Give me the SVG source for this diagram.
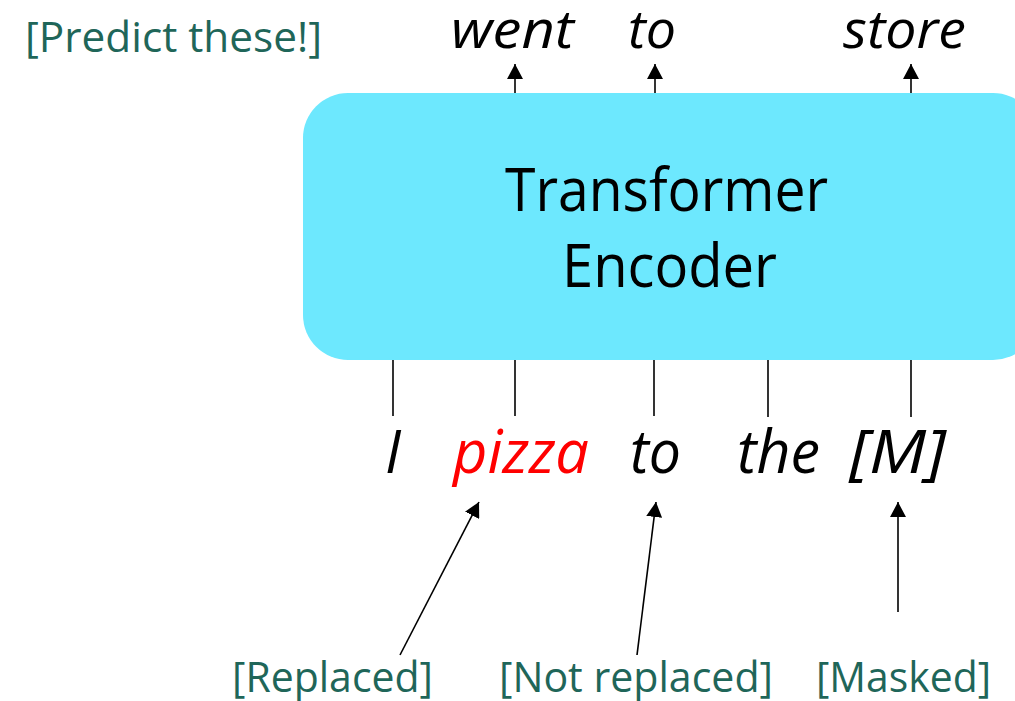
<svg xmlns="http://www.w3.org/2000/svg" width="1015" height="701" viewBox="0 0 1015 701">
<defs>
<marker id="ah" markerUnits="userSpaceOnUse" markerWidth="16" markerHeight="16" viewBox="0 0 16 16" refX="15" refY="8" orient="auto">
<path d="M0,0 L15,8 L0,16 Z" fill="#000"/>
</marker>
<style>
.lbl{font-family:"Open Sans","Liberation Sans",sans-serif;fill:#1f6659;font-size:42px}
.tok{font-family:"Open Sans","Liberation Sans",sans-serif;font-style:italic;fill:#000}
.enc{font-family:"Open Sans","Liberation Sans",sans-serif;fill:#000;font-size:60px}
.ln{stroke:#000;stroke-width:1.6;fill:none}
.arr{stroke:#000;stroke-width:1.6;fill:none;marker-end:url(#ah)}
</style>
</defs>
<rect width="1015" height="701" fill="#fff"/>
<g id="encoder">
<rect x="303" y="93" width="735" height="267" rx="45" ry="45" fill="#6de8fe"/>
<text class="enc" x="505" y="211" textLength="323" lengthAdjust="spacingAndGlyphs">Transformer</text>
<text class="enc" x="562" y="287" textLength="215" lengthAdjust="spacingAndGlyphs">Encoder</text>
</g>
<g id="predict-label">
<text class="lbl" x="25" y="52" textLength="297" lengthAdjust="spacingAndGlyphs">[Predict these!]</text>
</g>
<g id="outputs">
<text class="tok" font-size="53" x="451" y="48" textLength="123" lengthAdjust="spacingAndGlyphs">went</text>
<text class="tok" font-size="53" x="628" y="48" textLength="48" lengthAdjust="spacingAndGlyphs">to</text>
<text class="tok" font-size="53" x="843" y="48" textLength="123" lengthAdjust="spacingAndGlyphs">store</text>
</g>
<g id="inputs">
<text class="tok" font-size="60" x="385" y="473" textLength="16" lengthAdjust="spacingAndGlyphs">I</text>
<text class="tok" font-size="60" x="453" y="473" textLength="136" lengthAdjust="spacingAndGlyphs" style="fill:#ff0000">pizza</text>
<text class="tok" font-size="60" x="630" y="473" textLength="51" lengthAdjust="spacingAndGlyphs">to</text>
<text class="tok" font-size="60" x="737" y="473" textLength="83" lengthAdjust="spacingAndGlyphs">the</text>
<text class="tok" font-size="60" x="849" y="473" textLength="97" lengthAdjust="spacingAndGlyphs">[M]</text>
</g>
<g id="bottom-labels">
<text class="lbl" x="232" y="692" textLength="201" lengthAdjust="spacingAndGlyphs">[Replaced]</text>
<text class="lbl" x="499" y="692" textLength="274" lengthAdjust="spacingAndGlyphs">[Not replaced]</text>
<text class="lbl" x="816" y="692" textLength="175" lengthAdjust="spacingAndGlyphs">[Masked]</text>
</g>
<g id="connectors">
<line class="arr" x1="515" y1="93" x2="515" y2="64"/>
<line class="arr" x1="655" y1="93" x2="655" y2="64"/>
<line class="arr" x1="911" y1="93" x2="911" y2="64"/>
<line class="ln" x1="393" y1="360" x2="393" y2="416"/>
<line class="ln" x1="515" y1="360" x2="515" y2="416"/>
<line class="ln" x1="654" y1="360" x2="654" y2="416"/>
<line class="ln" x1="768" y1="360" x2="768" y2="417"/>
<line class="ln" x1="911" y1="360" x2="911" y2="417"/>
<line class="arr" x1="400" y1="655" x2="479" y2="502"/>
<line class="arr" x1="637" y1="655" x2="656" y2="502"/>
<line class="arr" x1="898" y1="612" x2="898" y2="502"/>
</g>
</svg>
